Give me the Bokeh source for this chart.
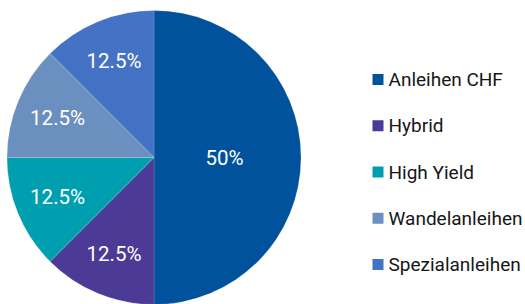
import math
from bokeh.plotting import figure
from bokeh.models import ColumnDataSource, Range1d
from bokeh.embed import file_html
from bokeh.resources import INLINE
from bokeh.core.properties import value

categories = ["Anleihen CHF", "Hybrid", "High Yield", "Wandelanleihen", "Spezialanleihen"]
shares = [50, 12.5, 12.5, 12.5, 12.5]
labels = ["50%", "12.5%", "12.5%", "12.5%", "12.5%"]
colors = ["#00529C", "#4B3A96", "#009FB0", "#6B8FBF", "#4472C4"]

FONT = "Roboto"
W, H = 525, 304
p = figure(width=W, height=H, output_backend="svg", toolbar_location=None,
           x_range=Range1d(0, W), y_range=Range1d(0, H), min_border=0)
p.axis.visible = False
p.grid.visible = False
p.outline_line_color = None
p.background_fill_color = "white"

cx, cy, R = 153.5, H - 157.0, 147.0
total = float(sum(shares))
starts, ends, lx, ly = [], [], [], []
cum = 0.0
for s in shares:
    a0 = math.pi / 2 - 2 * math.pi * cum / total
    cum += s
    a1 = math.pi / 2 - 2 * math.pi * cum / total
    starts.append(a0)
    ends.append(a1)
    mid = (a0 + a1) / 2
    rr = 0.48 * R if s / total >= 0.5 else 0.71 * R
    lx.append(cx + rr * math.cos(mid))
    ly.append(cy + rr * math.sin(mid))

src = ColumnDataSource(dict(start=starts, end=ends, color=colors, cat=categories,
                            lx=lx, ly=ly, lab=labels))
p.wedge(x=cx, y=cy, radius=R, start_angle="start", end_angle="end", direction="clock",
        fill_color="color", line_color="white", line_alpha=0.25, line_width=0.6, source=src)
p.text(x="lx", y="ly", text="lab", source=src, text_color="white",
       text_font=value(FONT), text_font_size="20.5px", text_align="center",
       text_baseline="middle")

# legend
leg_y = [H - (79 + i * 46.25) for i in range(len(categories))]
leg_src = ColumnDataSource(dict(y=leg_y, color=colors, cat=categories,
                                x=[377.5] * len(categories), tx=[388] * len(categories)))
p.rect(x="x", y="y", width=11, height=11, width_units="screen", height_units="screen",
       fill_color="color", line_color=None, source=leg_src)
p.text(x="tx", y="y", text="cat", source=leg_src, text_color="#161616",
       text_font=value(FONT), text_font_size="19px", text_align="left",
       text_baseline="middle")

open("out.html", "w").write(file_html(p, INLINE))
